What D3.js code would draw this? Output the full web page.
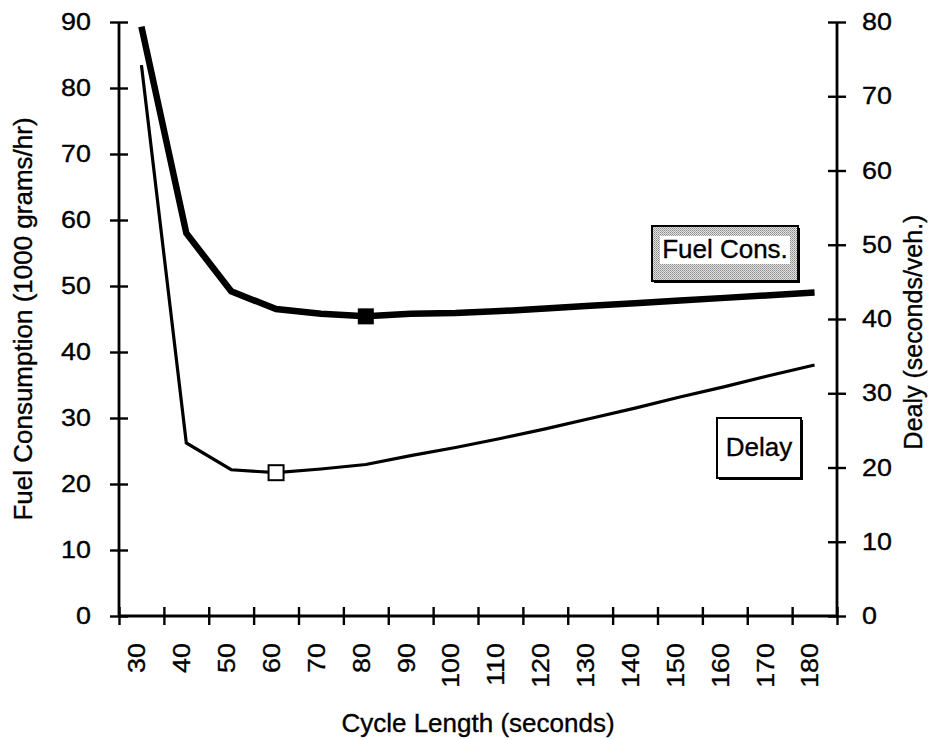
<!DOCTYPE html>
<html><head><meta charset="utf-8">
<script src="https://cdn.jsdelivr.net/npm/d3@7"></script>
<style>
body{margin:0;background:#fff}
svg{display:block}
text{font-family:"Liberation Sans",Arial,Helvetica,sans-serif;fill:#000}
</style>
</head><body>
<svg id="c" width="943" height="740"></svg>
<script>
// ---- data ----
const cycleLengths = [30,40,50,60,70,80,90,100,110,120,130,140,150,160,170,180];
const fuelValues   = [89.3,58.0,49.2,46.5,45.8,45.4,45.8,45.9,46.2,46.6,47.0,47.4,47.8,48.2,48.6,49.0];
const delayValues  = [74.2,23.3,19.7,19.3,19.8,20.4,21.6,22.7,23.9,25.2,26.6,28.0,29.5,30.9,32.4,33.8];
const leftTicks  = [0,10,20,30,40,50,60,70,80,90];
const rightTicks = [0,10,20,30,40,50,60,70,80];
const xBoundaryTicks = [25,35,45,55,65,75,85,95,105,115,125,135,145,155,165,175,185];
const fuelMarkerAt  = 80;
const delayMarkerAt = 60;
const xTitle = "Cycle Length (seconds)";
const leftTitle = "Fuel Consumption (1000 grams/hr)";
const rightTitle = "Dealy (seconds/veh.)";
const fuelLabel = "Fuel Cons.";
const delayLabel = "Delay";

// ---- scales ----
const svg = d3.select("#c");
const x  = d3.scaleLinear().domain([25,185]).range([119,837]);
const yL = d3.scaleLinear().domain([0,90]).range([616,22]);
const yR = d3.scaleLinear().domain([0,80]).range([616,22]);

const stretch = sel => sel.each(function(){
  const L = this.getComputedTextLength();
  d3.select(this).attr("textLength", L*1.12).attr("lengthAdjust","spacingAndGlyphs");
});
const heavy = sel => sel.attr("stroke","#000").attr("stroke-width",0.35);

// pattern for stippled legend
const defs = svg.append("defs");
const pat = defs.append("pattern").attr("id","stip").attr("width",2).attr("height",2).attr("patternUnits","userSpaceOnUse");
pat.append("rect").attr("width",2).attr("height",2).attr("fill","#e2e2e2");
pat.append("rect").attr("width",1).attr("height",1).attr("fill","#8a8a8a");
pat.append("rect").attr("x",1).attr("y",1).attr("width",1).attr("height",1).attr("fill","#a8a8a8");

// ---- axes ----
const gL = svg.append("g").attr("transform",`translate(${x.range()[0]},0)`)
  .call(d3.axisLeft(yL).tickValues(leftTicks).tickSize(9).tickPadding(19).tickFormat(d3.format("d")));
const gR = svg.append("g").attr("transform",`translate(${x.range()[1]},0)`)
  .call(d3.axisRight(yR).tickValues(rightTicks).tickSize(9).tickPadding(16).tickFormat(d3.format("d")));
const gB = svg.append("g").attr("transform",`translate(0,${yL(0)})`)
  .call(d3.axisBottom(x).tickValues(xBoundaryTicks).tickSize(9).tickFormat(""));
const gBL = svg.append("g").attr("transform",`translate(0,${yL(0)})`)
  .call(d3.axisBottom(x).tickValues(cycleLengths).tickSize(0).tickFormat(d3.format("d")));

[gL,gR,gB,gBL].forEach(g=>{
  g.select(".domain").attr("stroke","#000").attr("stroke-width",2.8);
  g.selectAll(".tick line").attr("stroke","#000").attr("stroke-width",2.4);
  g.selectAll("text").attr("font-size",24).attr("font-family",'"Liberation Sans",Arial,sans-serif').attr("fill","#000").call(heavy);
});
gBL.select(".domain").remove();
gL.selectAll(".tick line").attr("x1",9);
gR.selectAll(".tick line").attr("x1",-9);
gB.selectAll(".tick line").attr("y1",-9);
gL.select(".domain").attr("d",`M0,${yL(90)}V${yL(0)}`);
gR.select(".domain").attr("d",`M0,${yR(80)}V${yR(0)}`);
gB.select(".domain").attr("d",`M${x(25)},0H${x(185)}`);

gBL.selectAll(".tick text")
  .attr("text-anchor","end")
  .attr("x",null).attr("y",null).attr("dy","0.35em")
  .attr("transform","translate(-5,27) rotate(-90)");

gL.selectAll(".tick text").call(stretch);
gR.selectAll(".tick text").call(stretch);
gBL.selectAll(".tick text").call(stretch);

// ---- titles ----
svg.append("text").attr("x",(x(25)+x(185))/2).attr("y",732).attr("text-anchor","middle")
  .attr("font-size",26).call(heavy).text(xTitle);
svg.append("text").attr("transform",`translate(32,${(yL(0)+yL(90))/2}) rotate(-90)`).attr("text-anchor","middle")
  .attr("font-size",26).call(heavy).text(leftTitle);
svg.append("text").attr("transform",`translate(922,332) rotate(-90)`).attr("text-anchor","middle")
  .attr("font-size",25).call(heavy).text(rightTitle);

// ---- lines ----
const fuelData  = cycleLengths.map((c,i)=>({c, v:fuelValues[i]}));
const delayData = cycleLengths.map((c,i)=>({c, v:delayValues[i]}));
svg.append("path").datum(delayData).attr("fill","none").attr("stroke","#000").attr("stroke-width",3.2)
  .attr("d", d3.line().x(d=>x(d.c)).y(d=>yR(d.v)));
svg.append("path").datum(fuelData).attr("fill","none").attr("stroke","#000").attr("stroke-width",6.5)
  .attr("d", d3.line().x(d=>x(d.c)).y(d=>yL(d.v)));

// ---- markers ----
const fm = fuelData.find(d=>d.c===fuelMarkerAt);
svg.append("rect").attr("x",x(fm.c)-8).attr("y",yL(fm.v)-8).attr("width",16).attr("height",16).attr("fill","#000");
const dm = delayData.find(d=>d.c===delayMarkerAt);
svg.append("rect").attr("x",x(dm.c)-7.5).attr("y",yR(dm.v)-7.5).attr("width",15).attr("height",15)
  .attr("fill","#fff").attr("stroke","#000").attr("stroke-width",2);

// ---- legend labels ----
const fb = {x:652,y:226,w:146,h:55};
svg.append("rect").attr("x",fb.x+2).attr("y",fb.y+2).attr("width",fb.w).attr("height",fb.h).attr("fill","#000");
svg.append("rect").attr("x",fb.x).attr("y",fb.y).attr("width",fb.w).attr("height",fb.h)
  .attr("fill","url(#stip)").attr("stroke","#000").attr("stroke-width",2);
svg.append("rect").attr("x",fb.x+8).attr("y",fb.y+10).attr("width",fb.w-16).attr("height",28).attr("fill","#fff");
svg.append("text").attr("x",fb.x+fb.w/2).attr("y",fb.y+32).attr("text-anchor","middle").attr("font-size",26).call(heavy).text(fuelLabel);

const db = {x:717,y:418,w:84,h:60};
svg.append("rect").attr("x",db.x+2).attr("y",db.y+2).attr("width",db.w).attr("height",db.h).attr("fill","#000");
svg.append("rect").attr("x",db.x).attr("y",db.y).attr("width",db.w).attr("height",db.h)
  .attr("fill","#fff").attr("stroke","#000").attr("stroke-width",2);
svg.append("text").attr("x",db.x+db.w/2).attr("y",db.y+38).attr("text-anchor","middle").attr("font-size",26).call(heavy).text(delayLabel);
</script>
</body></html>
